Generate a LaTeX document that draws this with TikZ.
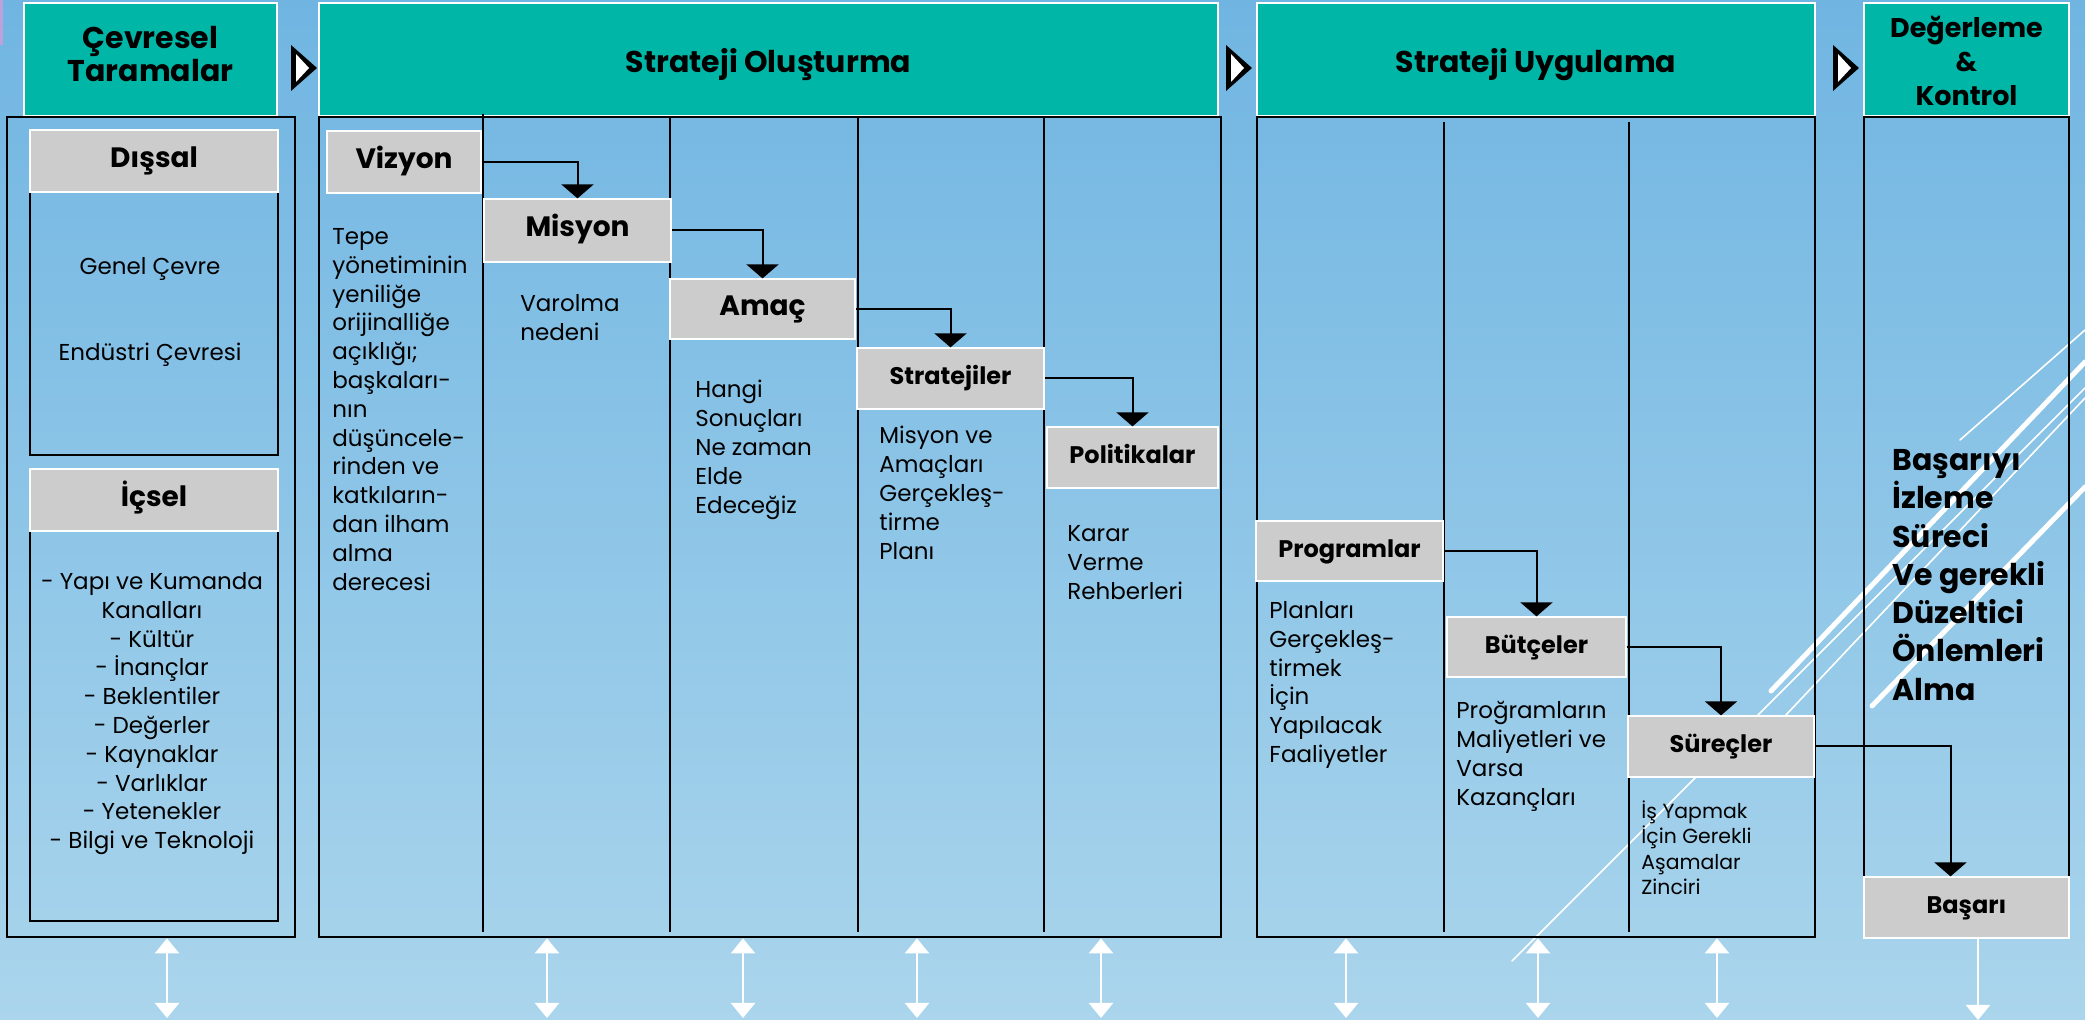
\documentclass[tikz,border=0pt]{standalone}
\usepackage{fontspec}
\setmainfont{Poppins}
\usetikzlibrary{arrows.meta,fit}
\definecolor{tealh}{RGB}{0,182,166}
\definecolor{grayb}{RGB}{204,204,204}
\definecolor{bgtop}{RGB}{112,181,226}
\definecolor{bgbot}{RGB}{170,213,236}
\definecolor{lilac}{RGB}{190,160,220}
\newcommand\fBody{\fontsize{11.5}{14.4}\selectfont}
\newcommand\fSur{\fontsize{10.2}{12.75}\selectfont}
\newcommand\fBox{\bfseries\fontsize{14}{17}\selectfont}
\newcommand\fSmallBox{\bfseries\fontsize{12}{14}\selectfont}
\newcommand\fHead{\bfseries\fontsize{15}{16.5}\selectfont}
\newcommand\fHeadFour{\bfseries\fontsize{13.5}{17.2}\selectfont}
\newcommand\fBig{\bfseries\fontsize{15}{19.15}\selectfont}
\begin{document}
\begin{tikzpicture}[x=0.5pt,y=-0.5pt,
  head/.style={fill=tealh, draw=white, line width=0.7pt, inner sep=0},
  headtxt/.style={inner sep=0, align=center, font=\fHead},
  graybox/.style={fill=grayb, draw=white, line width=0.6pt, inner sep=0, font=\fBox, text height=0.8em, text depth=0.15em},
  outerbox/.style={draw=black, line width=1.4pt, inner sep=0},
  innerbox/.style={draw=black, line width=1.2pt},
  colline/.style={draw=black, line width=1pt},
  txt/.style={inner sep=0, anchor=north west, align=left, font=\fBody},
  ctxt/.style={inner sep=0, align=center, font=\fBody},
  conn/.style={draw=black, line width=1pt, -{Triangle[width=16pt,length=7pt]}},
  warrow/.style={draw=white, line width=1.2pt, {Triangle[width=12pt,length=7.5pt]}-{Triangle[width=12pt,length=7.5pt]}},
  wdown/.style={draw=white, line width=1.2pt, -{Triangle[width=12pt,length=7.5pt]}},
  deco/.style={draw=white, line cap=round},
  playmark/.style={fill=black}
]
\useasboundingbox (0,0) rectangle (2085,1020);
% background
\fill[top color=bgtop, bottom color=bgbot] (0,0) rectangle (2085,1020);
\fill[lilac] (0,0) rectangle (3,45);
% decorative lines
\draw[deco, line width=0.8pt] (1512,961) -- (2085,388);
\draw[deco, line width=2.5pt] (1771,691) -- (2085,362);
\draw[deco, line width=0.8pt] (1785,716) -- (2085,398);
\draw[deco, line width=2.5pt] (1872,706) -- (2085,487);
\draw[deco, line width=0.8pt] (1960,440) -- (2085,330);

% headers
\node[head, minimum width=126.5pt, minimum height=56.5pt] (h1) at (150.5,59.5) {};
\node[head, minimum width=449.5pt, minimum height=56.5pt] (h2) at (768.5,59.5) {};
\node[head, minimum width=279pt, minimum height=56.5pt] (h3) at (1536,59.5) {};
\node[head, minimum width=102.5pt, minimum height=56.5pt] (h4) at (1966.5,59.5) {};
\node[headtxt] (h1t) at (150.5,54) {Çevresel\\Taramalar};
\node[headtxt] (h2t) at (768.5,65) {Strateji Oluşturma};
\node[headtxt] (h3t) at (1536,65) {Strateji Uygulama};
\node[headtxt, font=\fHeadFour] (h4t) at (1966.5,61) {Değerleme\\\&\\Kontrol};

% play marks
\fill[playmark] (291,45) -- (317,68) -- (291,91) -- cycle;
\fill[white] (296,54) -- (309,68) -- (296,82) -- cycle;
\fill[playmark] (1226,45) -- (1252,68) -- (1226,91) -- cycle;
\fill[white] (1231,54) -- (1244,68) -- (1231,82) -- cycle;
\fill[playmark] (1833,45) -- (1859,68) -- (1833,91) -- cycle;
\fill[white] (1838,54) -- (1851,68) -- (1838,82) -- cycle;

% bodies
\node[outerbox, fit={(7,117) (295,937)}] (b1) {};
\node[outerbox, fit={(319,117) (1221,937)}] (b2) {};
\node[outerbox, fit={(1257,117) (1815,937)}] (b3) {};
\node[outerbox, fit={(1864,117) (2069,937)}] (b4) {};

% column lines
\draw[colline] (483,114) -- (483,932);
\draw[colline] (670,117) -- (670,932);
\draw[colline] (858,117) -- (858,932);
\draw[colline] (1044,117) -- (1044,932);
\draw[colline] (1444,122) -- (1444,932);
\draw[colline] (1629,122) -- (1629,932);

% left column
\draw[innerbox] (30,192) rectangle (278,455);
\draw[innerbox] (30,531) rectangle (278,921);
\node[graybox, minimum width=124pt, minimum height=31pt] (dis) at (154,161) {Dışsal};
\node[graybox, minimum width=124pt, minimum height=31pt] (ic) at (154,500) {İçsel};
\node[ctxt] (genel) at (150,269) {Genel Çevre};
\node[ctxt] (endustri) at (150,355) {Endüstri Çevresi};
\node[ctxt, anchor=north] (iclist) at (152,572) {- Yapı ve Kumanda\\Kanalları\\- Kültür\\- İnançlar\\- Beklentiler\\- Değerler\\- Kaynaklar\\- Varlıklar\\- Yetenekler\\- Bilgi ve Teknoloji};

% strateji olusturma boxes
\node[graybox, minimum width=77pt, minimum height=31pt] (viz) at (404,162) {Vizyon};
\node[graybox, minimum width=93.5pt, minimum height=31.5pt] (mis) at (577.5,230.5) {Misyon};
\node[graybox, minimum width=92.5pt, minimum height=30pt] (ama) at (762.5,309) {Amaç};
\node[graybox, minimum width=93.5pt, minimum height=30.5pt, font=\fSmallBox] (str) at (950.5,378.5) {Stratejiler};
\node[graybox, minimum width=85.5pt, minimum height=30.5pt, font=\fSmallBox] (pol) at (1132.5,457.5) {Politikalar};

\node[txt] (viztxt) at (332,228) {Tepe\\yönetiminin\\yeniliğe\\orijinalliğe\\açıklığı;\\başkaları-\\nın\\düşüncele-\\rinden ve\\katkıların-\\dan ilham\\alma\\derecesi};
\node[txt] (mistxt) at (520,294) {Varolma\\nedeni};
\node[txt] (amatxt) at (695,380) {Hangi\\Sonuçları\\Ne zaman\\Elde\\Edeceğiz};
\node[txt] (strtxt) at (879,426) {Misyon ve\\Amaçları\\Gerçekleş-\\tirme\\Planı};
\node[txt] (poltxt) at (1067,525) {Karar\\Verme\\Rehberleri};

% strateji uygulama boxes
\node[graybox, minimum width=93.5pt, minimum height=30pt, font=\fSmallBox] (prg) at (1349.5,551) {Programlar};
\node[graybox, minimum width=89.5pt, minimum height=30pt, font=\fSmallBox] (but) at (1536.5,647) {Bütçeler};
\node[graybox, minimum width=93pt, minimum height=30.5pt, font=\fSmallBox] (sur) at (1721,746.5) {Süreçler};

\node[txt] (prgtxt) at (1269,601) {Planları\\Gerçekleş-\\tirmek\\İçin\\Yapılacak\\Faaliyetler};
\node[txt] (buttxt) at (1456,701) {Proğramların\\Maliyetleri ve\\Varsa\\Kazançları};
\node[txt, font=\fSur] (surtxt) at (1641,800) {İş Yapmak\\İçin Gerekli\\Aşamalar\\Zinciri};

% degerleme
\node[txt, font=\fBig] (izl) at (1892,449) {Başarıyı\\İzleme\\Süreci\\Ve gerekli\\Düzeltici\\Önlemleri\\Alma};
\node[graybox, minimum width=102.5pt, minimum height=30.5pt, font=\fSmallBox] (bas) at (1966.5,907.5) {Başarı};

% connectors
\draw[conn] (viz.east) -| (mis.north);
\draw[conn] (mis.east) -| (ama.north);
\draw[conn] (ama.east) -| (str.north);
\draw[conn] (str.east) -| (pol.north);
\draw[conn] (prg.east) -| (but.north);
\draw[conn] (but.east) -| (sur.north);
\draw[conn] (sur.east) -| ([xshift=-8pt]bas.north);

% bottom white arrows
\coordinate (a1) at (167,1018);
\coordinate (a2) at (547,1018);
\coordinate (a3) at (743,1018);
\coordinate (a4) at (917,1018);
\coordinate (a5) at (1101,1018);
\coordinate (a6) at (1346,1018);
\coordinate (a7) at (1538,1018);
\coordinate (a8) at (1717,1018);
\coordinate (a9) at (1978,1020);
\draw[warrow] (a1 |- b1.south) -- (a1);
\draw[warrow] (a2 |- b2.south) -- (a2);
\draw[warrow] (a3 |- b2.south) -- (a3);
\draw[warrow] (a4 |- b2.south) -- (a4);
\draw[warrow] (a5 |- b2.south) -- (a5);
\draw[warrow] (a6 |- b3.south) -- (a6);
\draw[warrow] (a7 |- b3.south) -- (a7);
\draw[warrow] (a8 |- b3.south) -- (a8);
\draw[wdown] (a9 |- bas.south) -- (a9);
\end{tikzpicture}
\end{document}
